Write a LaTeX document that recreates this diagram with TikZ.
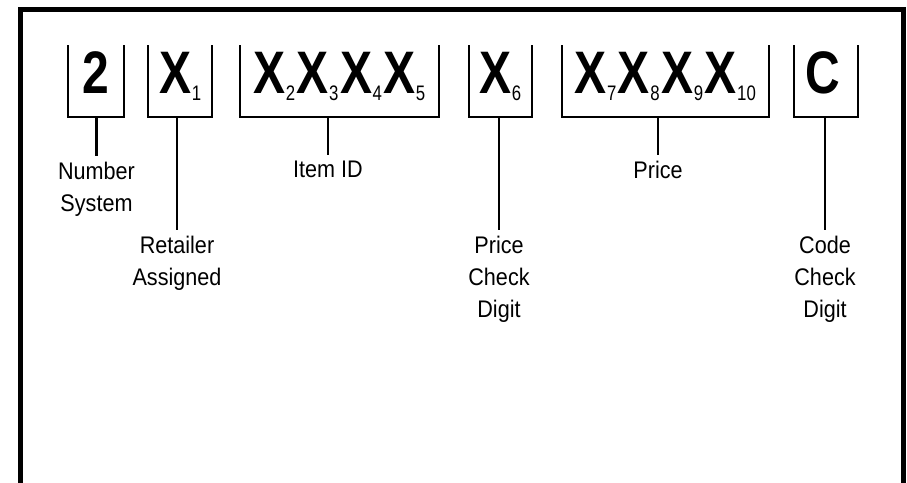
\documentclass[tikz,border=0pt]{standalone}
\usepackage{fontspec}
\newfontfamily\labfont[FakeStretch=0.9]{Liberation Sans}
\newfontfamily\digfont[FakeStretch=0.8]{Liberation Sans}
\newcommand\subsz{\mdseries\fontsize{21}{21}\selectfont}
\newcommand\sx[1]{X\kern0.5pt\raisebox{-7pt}{\subsz #1}\kern1.5pt}
\tikzset{
  frame/.style={line width=5pt},
  ubox/.style={draw=none, minimum height=72pt, inner sep=0pt, outer sep=0pt},
  uline/.style={line width=2pt},
  conn/.style={line width=2.4pt},
  digits/.style={inner sep=0pt, anchor=base, font=\digfont\bfseries\fontsize{60}{60}\selectfont},
  lab/.style={anchor=north, inner sep=0pt, align=center, font=\labfont\fontsize{24}{32}\selectfont},
}
\begin{document}
\begin{tikzpicture}[x=1pt,y=-1pt]
\useasboundingbox (0,0) rectangle (907,482);
% frame (open at the bottom)
\coordinate (fbl) at (20,484);
\coordinate (ftl) at (20,9);
\coordinate (ftr) at (903,9);
\coordinate (fbr) at (903,484);
\draw[frame] (fbl) -- (ftl) -- (ftr) -- (fbr);
% boxes
\node[ubox, minimum width=56pt]  (b0) at (96,81) {};
\node[ubox, minimum width=64pt]  (b1) at (180,81) {};
\node[ubox, minimum width=199pt] (b2) at (339.5,81) {};
\node[ubox, minimum width=63pt]  (b3) at (500.5,81) {};
\node[ubox, minimum width=207pt] (b4) at (665.5,81) {};
\node[ubox, minimum width=64pt]  (b5) at (826,81) {};
\foreach \b in {b0,b1,b2,b3,b4,b5}
  \draw[uline] (\b.north west) -- (\b.south west) -- (\b.south east) -- (\b.north east);
% digits
\node[digits] (d0) at (96,93) {2};
\node[digits] (d1) at (181,93) {\sx{1}};
\node[digits] (d2) at (340,93) {\sx{2}\sx{3}\sx{4}\sx{5}};
\node[digits] (d3) at (501,93) {\sx{6}};
\node[digits] (d4) at (666,93) {\sx{7}\sx{8}\sx{9}\sx{10}};
\node[digits] (d5) at (823,93) {C};
% labels
\node[lab] (l0) at (96.5,162) {Number\\System};
\node[lab] (l1) at (177,236) {Retailer\\Assigned};
\node[lab] (l2) at (328,161) {Item ID};
\node[lab] (l3) at (499,236) {Price\\Check\\Digit};
\node[lab] (l4) at (658,161) {Price};
\node[lab] (l5) at (825,236) {Code\\Check\\Digit};
% connectors
\draw[conn] (b0.south -| l0.north) -- ([yshift=6pt]l0.north);
\draw[conn] (b1.south -| l1.north) -- ([yshift=6pt]l1.north);
\draw[conn] (b2.south -| l2.north) -- ([yshift=6pt]l2.north);
\draw[conn] (b3.south -| l3.north) -- ([yshift=6pt]l3.north);
\draw[conn] (b4.south -| l4.north) -- ([yshift=6pt]l4.north);
\draw[conn] (b5.south -| l5.north) -- ([yshift=6pt]l5.north);
\end{tikzpicture}
\end{document}
